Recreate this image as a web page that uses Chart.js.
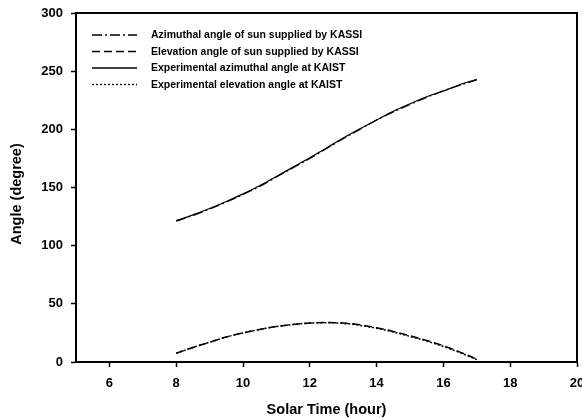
<!DOCTYPE html>
<html>
<head>
<meta charset="utf-8">
<script src="https://cdn.jsdelivr.net/npm/chart.js@4/dist/chart.umd.min.js"></script>
<style>
html,body{margin:0;padding:0;background:#fff;}
#wrap{width:582px;height:418px;position:relative;}
</style>
</head>
<body>
<div id="wrap"><canvas id="c" width="582" height="418"></canvas></div>
<script>
// ---- data ----
const hours = [8, 8.5, 9, 9.5, 10, 10.5, 11, 11.5, 12, 12.5, 13, 13.5, 14, 14.5, 15, 15.5, 16, 16.5, 17];
const kassiAzimuth = [121, 126, 131.5, 137.5, 144, 151, 159, 167, 175, 183.5, 192, 200, 208, 215, 221.5, 227.5, 233, 238, 242.5];
const kassiElevation = [7.5, 12.5, 17, 21.5, 25, 28, 30.5, 32.3, 33.5, 34, 33.5, 32, 29.5, 26.3, 22.5, 18.5, 14, 8.5, 2.5];
const expAzimuth = [121.5, 126.5, 132, 138, 144.5, 151.5, 159.5, 167.5, 175.5, 184, 192.5, 200.5, 208, 215.5, 222, 228, 233, 238.5, 243];
const expElevation = [7.5, 12.5, 17, 21.5, 25, 28, 30.5, 32.3, 33.5, 33.8, 33.2, 31.5, 29, 25.8, 22, 18, 13.3, 8, 2];
const xTicks = [6, 8, 10, 12, 14, 16, 18, 20];
const yTicks = [0, 50, 100, 150, 200, 250, 300];
const seriesLabels = [
  'Azimuthal angle of sun supplied by KASSI',
  'Elevation angle of sun supplied by KASSI',
  'Experimental azimuthal angle at KAIST',
  'Experimental elevation angle at KAIST'
];
const xTitle = 'Solar Time (hour)';
const yTitle = 'Angle (degree)';

const pts = arr => hours.map((h, i) => ({x: h, y: arr[i]}));
const FONT = 'Arial, "Liberation Sans", sans-serif';

function ds(label, data, dash, w) {
  return {label, data: pts(data), borderColor: '#000', borderWidth: w, borderDash: dash,
    pointRadius: 0, fill: false, tension: 0.4, cubicInterpolationMode: 'monotone'};
}

const legendPlugin = {
  id: 'customLegend',
  afterDraw(chart) {
    const ctx = chart.ctx;
    const ca = chart.chartArea;
    // frame
    ctx.save();
    ctx.strokeStyle = '#000';
    ctx.lineWidth = 2;
    ctx.strokeRect(ca.left, ca.top, ca.right - ca.left, ca.bottom - ca.top);
    ctx.restore();
    // y title
    ctx.save();
    ctx.font = 'bold 14.5px ' + FONT;
    ctx.fillStyle = '#000';
    ctx.textAlign = 'center';
    ctx.textBaseline = 'middle';
    ctx.translate(17, 194);
    ctx.rotate(-Math.PI / 2);
    ctx.fillText(yTitle, 0, 0);
    ctx.restore();
    // legend
    const rows = [35, 51.5, 68, 84.5];
    ctx.save();
    ctx.font = 'bold 10.5px ' + FONT;
    ctx.textBaseline = 'middle';
    ctx.fillStyle = '#000';
    chart.data.datasets.forEach((d, i) => {
      const y = rows[i];
      ctx.beginPath();
      ctx.setLineDash(d.borderDash || []);
      ctx.lineWidth = 1.3;
      ctx.strokeStyle = '#000';
      ctx.moveTo(92, y);
      ctx.lineTo(137, y);
      ctx.stroke();
      ctx.setLineDash([]);
      ctx.fillText(d.label, 151, y + 0.5);
    });
    ctx.restore();
  }
};

new Chart(document.getElementById('c'), {
  type: 'line',
  data: {
    datasets: [
      ds(seriesLabels[0], kassiAzimuth, [10, 3, 2, 3], 1.3),
      ds(seriesLabels[1], kassiElevation, [8, 4], 1.5),
      ds(seriesLabels[2], expAzimuth, [], 1.2),
      ds(seriesLabels[3], expElevation, [2, 2], 1.5)
    ]
  },
  options: {
    responsive: false,
    animation: false,
    layout: {padding: {top: 13, right: 5, bottom: 0, left: 0}},
    plugins: {legend: {display: false}, tooltip: {enabled: false}},
    scales: {
      x: {
        type: 'linear', min: 5, max: 20,
        afterBuildTicks: s => { s.ticks = xTicks.map(v => ({value: v})); },
        afterFit: s => { s.height = 56; s.paddingLeft = 0; s.paddingRight = 0; },
        grid: {drawOnChartArea: false, drawTicks: true, tickLength: 5, tickColor: '#000', tickWidth: 1.5},
        border: {display: true, color: '#000', width: 2},
        ticks: {color: '#000', padding: 9, maxRotation: 0, font: {family: FONT, size: 13, weight: 'bold'}},
        title: {display: true, text: xTitle, color: '#000', padding: {top: 0, bottom: -1},
          font: {family: FONT, size: 14.5, weight: 'bold'}}
      },
      y: {
        type: 'linear', min: 0, max: 300,
        afterBuildTicks: s => { s.ticks = yTicks.map(v => ({value: v})); },
        afterFit: s => { s.width = 76; s.paddingTop = 0; s.paddingBottom = 0; },
        grid: {drawOnChartArea: false, drawTicks: true, tickLength: 5, tickColor: '#000', tickWidth: 1.5},
        border: {display: true, color: '#000', width: 2},
        ticks: {color: '#000', padding: 8, font: {family: FONT, size: 13, weight: 'bold'}},
        title: {display: false}
      }
    }
  },
  plugins: [legendPlugin]
});
</script>
</body>
</html>
